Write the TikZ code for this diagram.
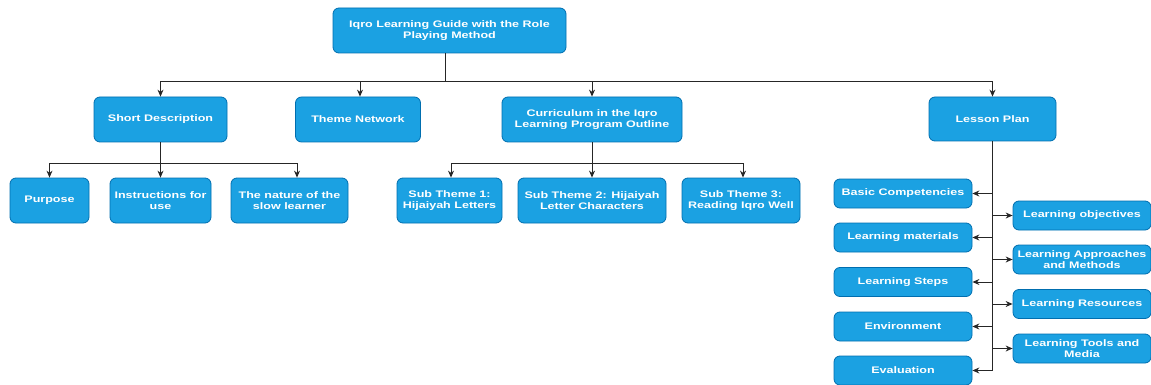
\documentclass[tikz,border=0pt]{standalone}
\usepackage{fontspec}
\setmainfont{Liberation Sans}[FakeStretch=1.32]
\usetikzlibrary{arrows.meta}
\definecolor{boxfill}{HTML}{1BA1E2}
\definecolor{boxline}{HTML}{006EAF}
\tikzset{
  box/.style={draw=boxline, fill=boxfill, line width=0.8pt, rounded corners=6pt,
    text=white, font=\fontsize{9.5}{11}\selectfont\bfseries, align=center, inner sep=0pt},
  arr/.style={draw=black!85, line width=1pt, -{Stealth[length=7pt,width=6pt]}},
  ln/.style={draw=black!85, line width=1pt}
}
\begin{document}
\begin{tikzpicture}[x=1pt,y=-1pt]
\useasboundingbox (0,0) rectangle (1151,385);
% root
\node[box, minimum width=233, minimum height=45] (root) at (449.5,30.5) {Iqro Learning Guide with the Role\\Playing Method};
% level 1
\node[box, minimum width=133, minimum height=45] (sd) at (160.5,119.5) {Short Description};
\node[box, minimum width=125, minimum height=45] (tn) at (358,119.5) {Theme Network};
\node[box, minimum width=180, minimum height=45] (cur) at (592,119.5) {Curriculum in the Iqro\\Learning Program Outline};
\node[box, minimum width=127, minimum height=44] (lp) at (992.5,119) {Lesson Plan};
% level 2
\node[box, minimum width=79, minimum height=45] (pur) at (49.5,200.5) {Purpose};
\node[box, minimum width=101, minimum height=45] (ins) at (160.5,200.5) {Instructions for\\use};
\node[box, minimum width=117, minimum height=45] (nat) at (289.5,200.5) {The nature of the\\slow learner};
\node[box, minimum width=105, minimum height=45] (s1) at (449.5,200.5) {Sub Theme 1:\\Hijaiyah Letters};
\node[box, minimum width=148, minimum height=45] (s2) at (592,200.5) {Sub Theme 2: Hijaiyah\\Letter Characters};
\node[box, minimum width=118, minimum height=45] (s3) at (741,200.5) {Sub Theme 3:\\Reading Iqro Well};
% lesson plan left
\node[box, minimum width=138, minimum height=29] (bc) at (903,193.5) {Basic Competencies};
\node[box, minimum width=138, minimum height=29] (lm) at (903,237.5) {Learning materials};
\node[box, minimum width=138, minimum height=29] (ls) at (903,282) {Learning Steps};
\node[box, minimum width=138, minimum height=29] (env) at (903,326.5) {Environment};
\node[box, minimum width=138, minimum height=29] (ev) at (903,370.5) {Evaluation};
% lesson plan right
\node[box, minimum width=138, minimum height=29] (lo) at (1082,215.5) {Learning objectives};
\node[box, minimum width=138, minimum height=29] (la) at (1082,259.5) {Learning Approaches\\and Methods};
\node[box, minimum width=138, minimum height=29] (lr) at (1082,304) {Learning Resources};
\node[box, minimum width=138, minimum height=29] (lt) at (1082,348.5) {Learning Tools and\\Media};
% connectors root
\coordinate (bus) at (445,82);
\draw[ln] (root.south -| bus) -- (bus);
\draw[arr] (bus) -| (sd.north);
\draw[arr] (bus) -| ([xshift=2pt]tn.north);
\draw[arr] (bus) -| (cur.north);
\draw[arr] (bus) -| (lp.north);
% short description
\coordinate (bus2) at (160.5,163);
\draw[ln] (sd.south) -- (bus2);
\draw[arr] (bus2) -| (pur.north);
\draw[arr] (bus2) -- (ins.north);
\draw[arr] (bus2) -| ([xshift=7.5pt]nat.north);
% curriculum
\coordinate (bus3) at (592,163);
\draw[ln] (cur.south) -- (bus3);
\draw[arr] (bus3) -| ([xshift=1.5pt]s1.north);
\draw[arr] (bus3) -- (s2.north);
\draw[arr] (bus3) -| ([xshift=2pt]s3.north);
% lesson plan
\coordinate (lpend) at (992.5,370.5);
\draw[ln] (lp.south) -- (lpend);
\foreach \n in {bc,lm,ls,env,ev}{\draw[arr] (lp.south |- \n.east) -- (\n.east);}
\foreach \n in {lo,la,lr,lt}{\draw[arr] (lp.south |- \n.west) -- (\n.west);}
\end{tikzpicture}
\end{document}
